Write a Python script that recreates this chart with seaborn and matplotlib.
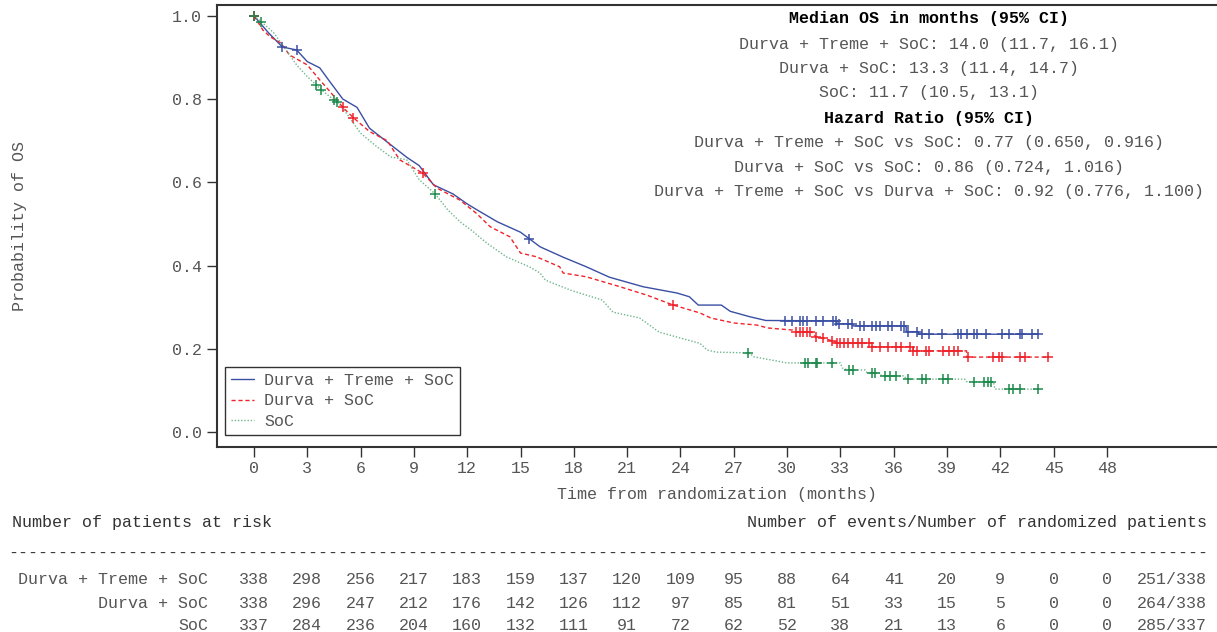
import numpy as np
import pandas as pd
import matplotlib
matplotlib.use("Agg")
import matplotlib.pyplot as plt
import matplotlib.transforms as mtransforms
from matplotlib.lines import Line2D
import seaborn as sns

# ---------------- data ----------------
arms = ["Durva + Treme + SoC", "Durva + SoC", "SoC"]

dts_t = [0, 0.8, 1.6, 2.4, 3.0, 3.7, 4.3, 5.0, 5.8, 6.5, 7.7, 8.6, 9.3, 10.1, 11.2, 12.0,
         12.7, 13.7, 15.0, 16.1, 17.4, 18.7, 20.0, 21.9, 23.8, 24.5, 25.0, 26.3, 26.8, 27.9,
         28.8, 32.8, 32.8, 33.7, 33.7, 36.7, 36.7, 37.4, 37.4, 44.1]
dts_s = [1.0, 0.96, 0.925, 0.918, 0.89, 0.875, 0.84, 0.80, 0.78, 0.73, 0.69, 0.66, 0.64, 0.594,
         0.572, 0.548, 0.53, 0.505, 0.48, 0.445, 0.42, 0.397, 0.372, 0.349, 0.334, 0.325, 0.305,
         0.305, 0.29, 0.277, 0.268, 0.267, 0.26, 0.26, 0.255, 0.255, 0.241, 0.241, 0.235, 0.235]
dts_cens = [0.0, 1.6, 2.4, 15.5, 29.9, 30.3, 30.7, 30.9, 31.1, 31.6, 32.0, 32.6, 32.75, 32.9,
            33.4, 33.65, 34.1, 34.3, 34.8, 35.0, 35.2, 35.7, 35.9, 36.4, 36.6, 36.8, 37.3, 37.6,
            38.0, 38.7, 39.6, 39.8, 40.1, 40.5, 40.7, 41.2, 42.1, 42.5, 43.1, 43.2, 43.8, 44.1]

ds_t = [0, 0.5, 0.9, 1.5, 2.0, 3.0, 3.7, 4.3, 5.0, 5.6, 6.5, 7.5, 8.2, 9.5, 10.3, 11.6, 12.5,
        13.3, 14.4, 15.0, 15.9, 17.2, 17.4, 18.7, 20.6, 22.1, 23.6, 25.1, 25.7, 27.0, 28.3, 28.9,
        30.3, 30.5, 31.4, 31.6, 32.4, 32.8, 34.8, 34.8, 37.1, 37.1, 40.1, 40.1, 44.7]
ds_s = [1.0, 0.966, 0.95, 0.935, 0.906, 0.882, 0.846, 0.817, 0.78, 0.755, 0.722, 0.70, 0.654,
        0.622, 0.586, 0.557, 0.526, 0.493, 0.469, 0.43, 0.421, 0.397, 0.382, 0.373, 0.349, 0.329,
        0.305, 0.286, 0.274, 0.262, 0.257, 0.25, 0.245, 0.24, 0.24, 0.229, 0.221, 0.214, 0.214,
        0.205, 0.205, 0.195, 0.195, 0.18, 0.18]
ds_cens = [0.0, 5.0, 5.6, 9.5, 23.6, 30.5, 30.7, 30.9, 31.1, 31.3, 31.6, 32.0, 32.5, 32.8, 33.0,
           33.2, 33.4, 33.7, 34.0, 34.2, 34.6, 34.8, 35.2, 35.7, 36.1, 36.4, 36.9, 37.1, 37.3,
           37.8, 38.0, 38.8, 39.1, 39.4, 39.6, 40.2, 41.6, 41.9, 42.1, 43.1, 43.4, 44.7]

soc_t = [0, 0.4, 1.1, 1.8, 2.4, 3.0, 3.5, 3.8, 4.5, 4.7, 5.2, 6.0, 6.9, 7.7, 8.6, 9.3, 10.2,
         10.9, 11.6, 12.2, 13.1, 14.2, 15.5, 16.1, 16.4, 17.8, 19.6, 20.2, 21.7, 22.8, 24.4,
         25.1, 25.5, 26.0, 27.9, 28.1, 30.0, 33.0, 33.1, 33.4, 34.4, 34.5, 35.2, 35.3, 36.6,
         36.7, 40.0, 40.1, 41.6, 41.7, 44.1]
soc_s = [1.0, 0.986, 0.96, 0.918, 0.882, 0.854, 0.834, 0.822, 0.798, 0.793, 0.766, 0.718, 0.686,
         0.661, 0.654, 0.606, 0.572, 0.534, 0.505, 0.486, 0.454, 0.421, 0.397, 0.382, 0.365,
         0.341, 0.317, 0.288, 0.274, 0.24, 0.221, 0.213, 0.197, 0.192, 0.19, 0.181, 0.166, 0.166,
         0.154, 0.149, 0.149, 0.142, 0.142, 0.135, 0.135, 0.127, 0.127, 0.121, 0.121, 0.103, 0.103]
soc_cens = [0.0, 0.4, 3.5, 3.8, 4.5, 4.7, 10.2, 27.8, 31.0, 31.2, 31.6, 31.7, 32.5, 33.5, 33.7,
            34.8, 34.95, 35.5, 35.8, 36.1, 36.8, 37.6, 37.8, 38.8, 39.05, 40.5, 41.1, 41.3, 41.5,
            42.5, 42.7, 43.1, 44.1]

risk_times = list(range(0, 49, 3))
risk_dts = [338, 298, 256, 217, 183, 159, 137, 120, 109, 95, 88, 64, 41, 20, 9, 0, 0]
risk_ds = [338, 296, 247, 212, 176, 142, 126, 112, 97, 85, 81, 51, 33, 15, 5, 0, 0]
risk_soc = [337, 284, 236, 204, 160, 132, 111, 91, 72, 62, 52, 38, 21, 13, 6, 0, 0]
events = ["251/338", "264/338", "285/337"]

summary_lines = [
    ("Median OS in months (95% CI)", True),
    ("Durva + Treme + SoC: 14.0 (11.7, 16.1)", False),
    ("Durva + SoC: 13.3 (11.4, 14.7)", False),
    ("SoC: 11.7 (10.5, 13.1)", False),
    ("Hazard Ratio (95% CI)", True),
    ("Durva + Treme + SoC vs SoC: 0.77 (0.650, 0.916)", False),
    ("Durva + SoC vs SoC: 0.86 (0.724, 1.016)", False),
    ("Durva + Treme + SoC vs Durva + SoC: 0.92 (0.776, 1.100)", False),
]

# ---------------- styling ----------------
sns.set_style("ticks")
plt.rcParams["font.family"] = ["Liberation Mono", "DejaVu Sans Mono"]

colors = ["#3A4FA3", "#F0232B", "#1E8A4C"]
line_colors = ["#3A4FA3", "#F0232B", "#6FB48C"]
styles = ["-", (0, (3, 2)), (0, (1, 1.3))]
TXT = "#555555"
FS = 12

W, H = 1217, 632
fig = plt.figure(figsize=(W / 100, H / 100), dpi=100)
ax = fig.add_axes([217 / W, 185 / H, 1000 / W, 442 / H])

curves = [(dts_t, dts_s, dts_cens), (ds_t, ds_s, ds_cens), (soc_t, soc_s, soc_cens)]
for i, (t, s, c) in enumerate(curves):
    df = pd.DataFrame({"t": t, "s": s})
    sns.lineplot(data=df, x="t", y="s", ax=ax, color=line_colors[i], linestyle=styles[i],
                 linewidth=1.0, estimator=None, sort=False, legend=False)
    cy = np.interp(c, t, s)
    sns.scatterplot(x=c, y=cy, ax=ax, marker="+", s=45, color=colors[i], linewidth=1.1,
                    legend=False, zorder=4)

ax.set_xlim(-2.08, 54.19)
ax.set_ylim(-0.036, 1.026)
ax.set_xticks(risk_times)
ax.set_xticklabels([str(v) for v in risk_times])
ax.set_yticks([0, 0.2, 0.4, 0.6, 0.8, 1.0])
ax.set_yticklabels(["0.0", "0.2", "0.4", "0.6", "0.8", "1.0"])
ax.tick_params(axis="both", direction="out", length=7, width=1, color="#333333",
               labelcolor=TXT, labelsize=FS)
ax.tick_params(axis="x", pad=3)
ax.tick_params(axis="y", pad=4)
ax.set_xlabel("")
ax.set_ylabel("")
for side in ["left", "bottom", "top"]:
    ax.spines[side].set_color("#333333")
    ax.spines[side].set_linewidth(1.5)
ax.spines["right"].set_visible(False)

handles = [Line2D([0], [0], color=line_colors[i], linestyle=styles[i], linewidth=1.0)
           for i in range(3)]
leg = ax.legend(handles, arms, loc="lower left", bbox_to_anchor=(0.008, 0.027),
                borderaxespad=0, frameon=True, fancybox=False, edgecolor="#333333",
                framealpha=1, fontsize=FS, handlelength=1.4, handletextpad=0.6,
                labelspacing=0.35, borderpad=0.35)
leg.get_frame().set_linewidth(1.0)
for tx in leg.get_texts():
    tx.set_color(TXT)

# axis labels
fig.text(20 / W, 1 - 226 / H, "Probability of OS", rotation=90, ha="center", va="center",
         fontsize=FS, color=TXT)
fig.text(717 / W, 1 - 495 / H, "Time from randomization (months)", ha="center", va="center",
         fontsize=FS, color=TXT)

# summary block
ys = [19, 44, 69, 93, 118, 142, 167, 191]
for (line, bold), y in zip(summary_lines, ys):
    fig.text(929 / W, 1 - y / H, line, ha="center", va="center", fontsize=FS,
             color="black" if bold else TXT, fontweight="bold" if bold else "normal")

# risk table
fig.text(12 / W, 1 - 523 / H, "Number of patients at risk", ha="left", va="center",
         fontsize=FS, color="#333333")
fig.text(1207 / W, 1 - 523 / H, "Number of events/Number of randomized patients",
         ha="right", va="center", fontsize=FS, color="#333333")
fig.text(0.5, 1 - 553 / H, "-" * 120, ha="center", va="center", fontsize=FS, color="#333333")

blend = mtransforms.blended_transform_factory(ax.transData, fig.transFigure)
rows = [risk_dts, risk_ds, risk_soc]
row_y = [580, 603, 625]
for name, vals, ev, y in zip(arms, rows, events, row_y):
    yf = 1 - y / H
    fig.text(208 / W, yf, name, ha="right", va="center", fontsize=FS, color=TXT)
    for tm, v in zip(risk_times, vals):
        ax.text(tm, yf, str(v), transform=blend, ha="center", va="center", fontsize=FS,
                color=TXT, clip_on=False)
    fig.text(1207 / W, yf, ev, ha="right", va="center", fontsize=FS, color=TXT)

fig.savefig("out.png", dpi=100)
